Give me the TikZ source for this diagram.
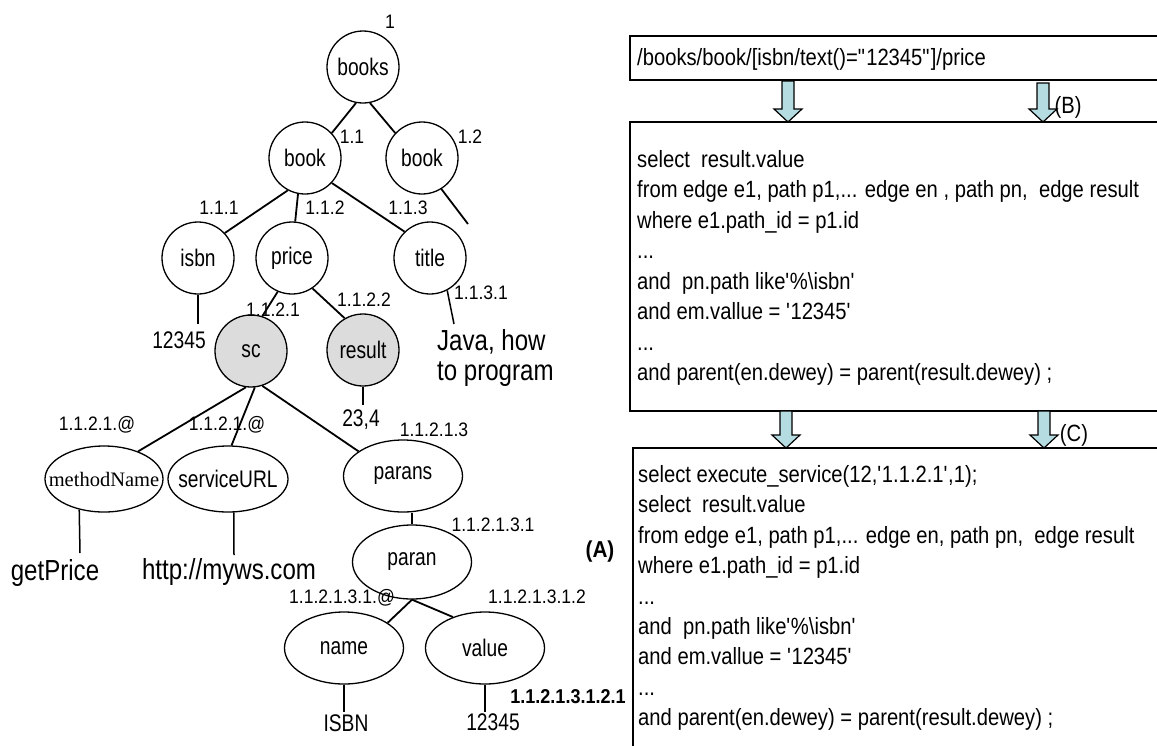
\documentclass[tikz,border=0pt]{standalone}
\usepackage{fontspec}
\setmainfont{Liberation Sans}[FakeStretch=0.9]
\newfontfamily\myserif{Liberation Serif}
\newfontfamily\nodeff{Liberation Sans}[FakeStretch=0.8]
\newfontfamily\bigff{Liberation Sans}[FakeStretch=0.83]
\newfontfamily\codeff{Liberation Sans}[FakeStretch=0.86]
\usetikzlibrary{shapes.geometric}
\definecolor{arrowblue}{RGB}{180,220,225}
\definecolor{nodegray}{RGB}{220,220,220}
\newcommand\myNode{\nodeff\fontsize{24}{26}\selectfont}
\newcommand\myLbl{\fontsize{19.5}{22}\selectfont}
\newcommand\myLeaf{\nodeff\fontsize{24}{26}\selectfont}
\newcommand\myBig{\bigff\fontsize{29}{30}\selectfont}
\newcommand\myCode{\codeff\fontsize{23.5}{30}\selectfont}
\newcommand\blockarrow[3]{%
  \filldraw[barrow] ({#1-6},#2) -- ({#1+6},#2) -- ({#1+6},{#3-13}) -- ({#1+14},{#3-13}) -- (#1,#3) -- ({#1-14},{#3-13}) -- ({#1-6},{#3-13}) -- cycle;}
\tikzset{
  cnode/.style={circle, draw, line width=1.3pt, minimum size=72pt, inner sep=0pt, font=\myNode},
  gnode/.style={cnode, fill=nodegray},
  enode/.style={ellipse, draw, line width=1.3pt, minimum width=119pt, minimum height=70pt, inner sep=0pt, font=\myNode},
  edge/.style={line width=1.8pt},
  leafline/.style={line width=1.5pt},
  lbl/.style={inner sep=0pt, font=\myLbl},
  leaf/.style={inner sep=0pt, font=\myLeaf},
  big/.style={inner sep=0pt, font=\myBig},
  code/.style={inner sep=0pt, anchor=west, font=\myCode, text height=16pt, text depth=5pt},
  box/.style={draw, line width=1.5pt},
  barrow/.style={fill=arrowblue, draw=black, line width=1.2pt, line join=miter}
}
\begin{document}
\begin{tikzpicture}[x=1pt,y=-1pt]
\useasboundingbox (0,0) rectangle (1157,745);
\fill[white] (0,0) rectangle (1157,745);
\clip (0,0) rectangle (1157,745);

% ---------------- tree ----------------
\node[cnode] (books) at (363,67) {books};
\node[cnode] (book1) at (305,158) {book};
\node[cnode] (book2) at (422,158) {book};
\node[cnode] (isbn) at (198,258) {isbn};
\node[cnode] (price) at (292,258) {price};
\node[cnode] (title) at (430,258) {title};
\node[gnode] (sc) at (251,351) {sc};
\node[gnode] (result) at (363,350) {result};
\node[enode, minimum width=118pt, minimum height=66pt, font=\myserif\fontsize{20.5}{24}\selectfont] (methodName) at (104,479) {\makebox[0pt]{methodName}};
\node[enode, minimum width=120pt, minimum height=66pt] (serviceURL) at (228,479) {\makebox[0pt]{serviceURL}};
\node[enode, minimum height=72pt] (parans) at (403,476) {\makebox[0pt]{parans}};
\node[enode, minimum height=74pt] (paran) at (412,562) {\makebox[0pt]{paran}};
\node[enode, minimum height=72pt] (name) at (344,648) {\makebox[0pt]{name}};
\node[enode, minimum height=72pt] (value) at (485,648) {\makebox[0pt]{value}};

% labels
\node[lbl] (l1) at (390,22) {1};
\node[lbl] (l11) at (352,137) {1.1};
\node[lbl] (l12) at (470,137) {1.2};
\node[lbl] (l111) at (219,208) {1.1.1};
\node[lbl] (l112) at (325,208) {1.1.2};
\node[lbl] (l113) at (408,208) {1.1.3};
\node[lbl] (l1121) at (273,310) {1.1.2.1};
\node[lbl] (l1122) at (364,300) {1.1.2.2};
\node[lbl] (l1131) at (481,293) {1.1.3.1};
\node[lbl] (lat1) at (97,425) {1.1.2.1.@};
\node[lbl] (lat2) at (227,425) {1.1.2.1.@};
\node[lbl] (l11213) at (434,430) {1.1.2.1.3};
\node[lbl] (l112131) at (493,525) {1.1.2.1.3.1};
\node[lbl] (lat3) at (342,598) {1.1.2.1.3.1.@};
\node[lbl] (l1121312) at (537,597) {1.1.2.1.3.1.2};
\node[inner sep=0pt, font=\fontsize{20}{22}\selectfont\bfseries] (l11213121) at (568,697) {1.1.2.1.3.1.2.1};

% leaf texts
\node[leaf] (t12345a) at (179,340) {12345};
\node[big, align=left, anchor=west] (java) at (437,358) {Java, how\\to program};
\node[leaf] (t234) at (361,420) {23,4};
\node[big] (getPrice) at (55,573) {getPrice};
\node[big] (http) at (229,572) {http://myws.com};
\node[leaf] (tISBN) at (346,723) {ISBN};
\node[leaf] (t12345b) at (493,722) {12345};

% free ends
\coordinate (cBook2) at (468,224);
\coordinate (c12345) at (198,324);
\coordinate (cJava) at (454,324);
\coordinate (c234) at (363,405);
\coordinate (cGet) at (80,553);
\coordinate (cHttp) at (234,555);
\coordinate (cISBN) at (344,712);
\coordinate (cVal) at (485,712);

% edges
\draw[edge] (books.259) -- (book1.43);
\draw[edge] (books.281) -- (book2.137);
\draw[edge] (book2.302) -- (cBook2);
\draw[edge] (book1.242) -- (isbn.43);
\draw[edge] (book1.259) -- (price.85);
\draw[edge] (book1.317) -- (title.134);
\draw[edge] (price.247) -- (sc.72);
\draw[edge] (price.304) -- (result.120);
\draw[edge] (sc.262) -- (methodName.39);
\draw[edge] (sc.276) -- (serviceURL.84);
\draw[edge] (sc.288) -- (parans.151);
\draw[edge] (parans.south -| paran.north) -- (paran.north);
\draw[edge] (paran.south) -- (name.30);
\draw[edge] (paran.south) -- (value.136);

\draw[leafline] (isbn.south) -- (c12345);
\draw[leafline] (title.298) -- (cJava);
\draw[leafline] (result.south) -- (c234);
\draw[leafline] (methodName.231) -- (cGet);
\draw[leafline] (serviceURL.280) -- (cHttp);
\draw[leafline] (name.south) -- (cISBN);
\draw[leafline] (value.south) -- (cVal);

\node[inner sep=0pt, font=\fontsize{23}{26}\selectfont\bfseries] (A) at (600,552) {(A)};

% ---------------- right side ----------------
\draw[box] (630,36) rectangle (1175,80);
\draw[box] (630,122) rectangle (1175,411);
\draw[box] (633,448) rectangle (1175,760);

\node[code] (xp) at (637,60) {/books/book/[isbn/text()=\textquotedbl 12345\textquotedbl]/price};

\blockarrow{788}{81}{122}
\blockarrow{1043}{83}{122}
\node[inner sep=0pt, font=\myCode] (B) at (1068,107) {(B)};

\node[code] (m1) at (637,162) {select\ \ result.value};
\node[code] (m2) at (637,192.4) {from edge e1, path p1,... edge en , path pn,\ \ edge result};
\node[code] (m3) at (637,222.9) {where e1.path\_id = p1.id};
\node[code] (m4) at (637,253.3) {...};
\node[code] (m5) at (637,283.7) {and\ \ pn.path like\textquotesingle\%\textbackslash isbn\textquotesingle};
\node[code] (m6) at (637,314.1) {and em.vallue = \textquotesingle 12345\textquotesingle};
\node[code] (m7) at (637,344.6) {...};
\node[code] (m8) at (637,375) {and parent(en.dewey) = parent(result.dewey) ;};

\blockarrow{786}{411}{448}
\blockarrow{1044}{411}{448}
\node[inner sep=0pt, font=\myCode] (C) at (1074,435) {(C)};

\node[code] (b1) at (638,477) {select execute\_service(12,\textquotesingle 1.1.2.1\textquotesingle,1);};
\node[code] (b2) at (638,507.4) {select\ \ result.value};
\node[code] (b3) at (638,537.8) {from edge e1, path p1,... edge en, path pn,\ \ edge result};
\node[code] (b4) at (638,568.2) {where e1.path\_id = p1.id};
\node[code] (b5) at (638,598.6) {...};
\node[code] (b6) at (638,629) {and\ \ pn.path like\textquotesingle\%\textbackslash isbn\textquotesingle};
\node[code] (b7) at (638,659.4) {and em.vallue = \textquotesingle 12345\textquotesingle};
\node[code] (b8) at (638,689.8) {...};
\node[code] (b9) at (638,720.2) {and parent(en.dewey) = parent(result.dewey) ;};
\end{tikzpicture}
\end{document}
